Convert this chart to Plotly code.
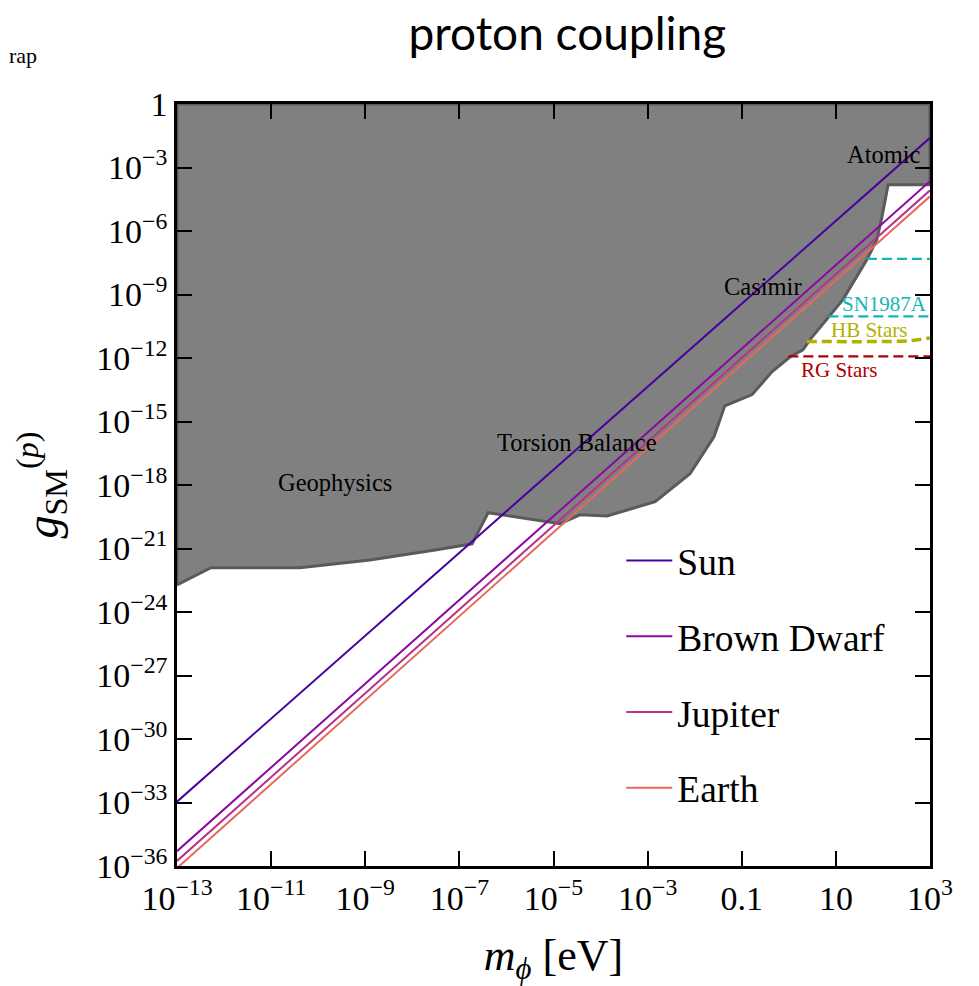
import plotly.graph_objects as go

# ---- data (log10 values) ----
line_logm = [-13, 3]                     # x-range end points, log10(m/eV)
sun_logg = [-32.96, -1.60]
brown_dwarf_logg = [-35.30, -3.65]
jupiter_logg = [-35.76, -4.08]
earth_logg = [-36.10, -4.36]

# exclusion region lower boundary (log10 m, log10 g)
excl_logm = [-13.0, -12.28, -10.39, -8.90, -7.48, -6.73, -6.39, -4.86, -4.44, -3.86,
             -2.84, -2.10, -1.59, -1.36, -1.04, -0.78, -0.36, 0.03, 0.30, 0.45,
             1.15, 1.66, 1.87, 1.98, 2.11, 3.0]
excl_logg = [-22.72, -21.91, -21.91, -21.54, -21.06, -20.78, -19.31, -19.83, -19.41, -19.46,
             -18.79, -17.47, -15.72, -14.26, -13.97, -13.73, -12.65, -11.94, -11.61, -11.13,
             -9.24, -7.35, -6.41, -5.32, -3.81, -3.81]

cyan_top_logm = [1.66, 3.0]
cyan_top_logg = [-7.32, -7.32]
sn_logm = [0.84, 3.0]
sn_logg = [-10.03, -10.03]
hb_logm = [0.38, 2.0, 2.6, 3.0]
hb_logg = [-11.22, -11.22, -11.18, -11.05]
rg_logm = [-0.01, 3.0]
rg_logg = [-11.92, -11.92]

x_tick_exp = [-13, -11, -9, -7, -5, -3, -1, 1, 3]
x_tick_text = ["10<sup>−13</sup>", "10<sup>−11</sup>", "10<sup>−9</sup>", "10<sup>−7</sup>",
               "10<sup>−5</sup>", "10<sup>−3</sup>", "0.1", "10", "10<sup>3</sup>"]
y_tick_exp = [0, -3, -6, -9, -12, -15, -18, -21, -24, -27, -30, -33, -36]
y_tick_text = ["1"] + ["10<sup>−%d</sup>" % (-e) for e in y_tick_exp[1:]]

series_names = ["Sun", "Brown Dwarf", "Jupiter", "Earth"]
series_logg = [sun_logg, brown_dwarf_logg, jupiter_logg, earth_logg]
series_colors = ["#45039e", "#8a09a5", "#b93289", "#e4695e"]

# text labels: (text, log m, log g, size, color)
labels = [
    ("Geophysics", -9.64, -17.90, 24.5, "black"),
    ("Torsion Balance", -4.50, -16.00, 24.5, "black"),
    ("Casimir", -0.55, -8.63, 24.5, "black"),
    ("Atomic", 2.02, -2.39, 24.5, "black"),
    ("SN1987A", 2.04, -9.45, 21, "#13b5b5"),
    ("HB Stars", 1.70, -10.66, 21, "#b3b000"),
    ("RG Stars", 1.07, -12.55, 21, "#b00000"),
]

p10 = lambda arr: [10 ** v for v in arr]
SERIF = "Liberation Serif"

fig = go.Figure()

# exclusion region (filled up to g = 1)
poly_x = excl_logm + [3.0, -13.0, -13.0]
poly_y = excl_logg + [0.0, 0.0, excl_logg[0]]
fig.add_trace(go.Scatter(x=p10(poly_x), y=p10(poly_y), mode="lines", fill="toself",
                         fillcolor="#808080", line=dict(color="#5a5a5a", width=3),
                         showlegend=False, hoverinfo="skip"))

# astrophysical bounds
fig.add_trace(go.Scatter(x=p10(cyan_top_logm), y=p10(cyan_top_logg), mode="lines",
                         line=dict(color="#13b5b5", width=2.2, dash="10px,5px"), showlegend=False))
fig.add_trace(go.Scatter(x=p10(sn_logm), y=p10(sn_logg), mode="lines",
                         line=dict(color="#13b5b5", width=2.2, dash="10px,5px"), showlegend=False))
fig.add_trace(go.Scatter(x=p10(hb_logm), y=p10(hb_logg), mode="lines", line_shape="spline",
                         line=dict(color="#b3b000", width=3.5, dash="10px,5px"), showlegend=False))
fig.add_trace(go.Scatter(x=p10(rg_logm), y=p10(rg_logg), mode="lines",
                         line=dict(color="#b00000", width=2.2, dash="10px,5px"), showlegend=False))

for name, lg, col in zip(series_names, series_logg, series_colors):
    fig.add_trace(go.Scatter(x=p10(line_logm), y=p10(lg), mode="lines", name=name,
                             legendgroup=name, line=dict(color=col, width=2)))

for text, lx, ly, size, col in labels:
    fig.add_annotation(x=lx, y=ly, xref="x", yref="y", text=text, showarrow=False,
                       font=dict(family=SERIF, size=size, color=col))

# stray text at top-left edge
fig.add_annotation(x=-0.2244, y=1.064, xref="paper", yref="paper", text="rap", showarrow=False,
                   xanchor="left", yanchor="middle", borderpad=0,
                   font=dict(family=SERIF, size=22, color="black"))

axis_common = dict(type="log", showgrid=False, zeroline=False, showline=True,
                   linecolor="black", linewidth=2.5, mirror="ticks", ticks="inside",
                   ticklen=15, tickwidth=2, tickcolor="black",
                   tickfont=dict(family=SERIF, size=34, color="black"))

fig.update_xaxes(range=[-13, 3], tickvals=p10(x_tick_exp), ticktext=x_tick_text,
                 title=dict(text="<i>m</i><sub><i>ϕ</i></sub> [eV]",
                            font=dict(family=SERIF, size=44, color="black"), standoff=28),
                 **axis_common)
fig.update_yaxes(range=[-36, 0], tickvals=p10(y_tick_exp), ticktext=y_tick_text,
                 title=dict(text="<i>g</i><sub>SM</sub><sup>(<i>p</i>)</sup>",
                            font=dict(family=SERIF, size=46, color="black"), standoff=24),
                 **axis_common)

fig.update_layout(
    width=971, height=978,
    margin=dict(l=169, r=49, t=96, b=120),
    paper_bgcolor="white", plot_bgcolor="white",
    title=dict(text="proton coupling", x=0.576, xanchor="center", y=0.974, yanchor="middle",
               font=dict(family="Lato", size=46, color="black")),
    legend=dict(x=0.59, y=0.4416, xanchor="left", yanchor="top", bgcolor="rgba(0,0,0,0)",
                font=dict(family=SERIF, size=37.5, color="black"), itemwidth=46,
                tracegroupgap=24),
    showlegend=True,
)

fig.write_html("out.html")
